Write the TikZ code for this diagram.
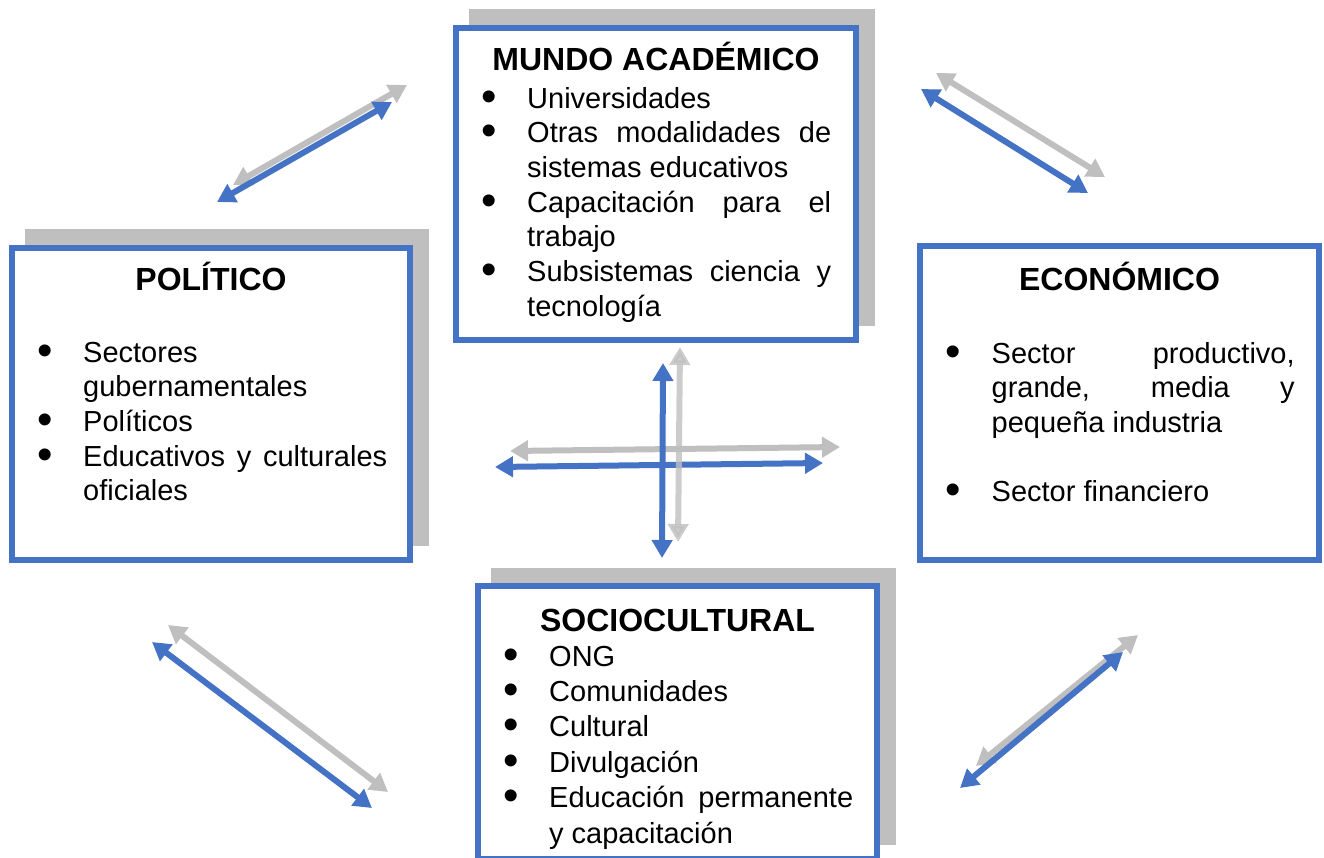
\documentclass[tikz,border=0pt]{standalone}
\usepackage{fontspec}
\setmainfont{Liberation Sans}
\usetikzlibrary{arrows.meta,shadows}
\definecolor{azul}{HTML}{4472C4}
\definecolor{gris}{HTML}{BFBFBF}
\tolerance=10000
\hbadness=10000
\newcommand{\vineta}[1]{\noindent\hangindent=46pt\hangafter=1\makebox[46pt][l]{{\fontsize{44}{44}\selectfont\raisebox{-3pt}{\textbullet}}}#1\par}

\begin{document}
\begin{tikzpicture}[x=1pt, y=-1pt,
  caja/.style={draw=azul, line width=6pt, fill=white, inner sep=0pt},
  sombra/.style={drop shadow={shadow xshift=16pt, shadow yshift=16pt, shadow scale=1.015, fill=gris, opacity=1}},
  titulo/.style={font=\fontsize{32}{38}\selectfont\bfseries, inner sep=0pt, anchor=base},
  lista/.style={font=\fontsize{29}{34.7}\selectfont, text width=350pt, align=justify, inner sep=0pt, anchor=base west},
  flecha/.style={line width=6pt, {Triangle[length=18pt,width=20pt]}-{Triangle[length=18pt,width=20pt]}}]
  \useasboundingbox (0,0) rectangle (1324,857);
  % boxes
  \node[caja, sombra, minimum width=400pt, minimum height=312pt] (mundo) at (656,184) {};
  \node[caja, sombra, minimum width=398pt, minimum height=312pt] (politico) at (211,404) {};
  \node[caja, minimum width=399pt, minimum height=314pt] (economico) at (1119.5,403) {};
  \node[caja, sombra, minimum width=399pt, minimum height=273pt] (socio) at (677.5,722.5) {};
  % titles
  \node[titulo] (tmundo) at (656,70) {MUNDO ACADÉMICO};
  \node[titulo] (tpolitico) at (211,290) {POLÍTICO};
  \node[titulo] (teconomico) at (1119.5,290) {ECONÓMICO};
  \node[titulo] (tsocio) at (677.5,631) {SOCIOCULTURAL};
  % lists
  \node[lista] (lmundo) at (481,108) {%
    \vineta{Universidades}%
    \vineta{Otras modalidades de\linebreak sistemas educativos}%
    \vineta{Capacitación para el\linebreak trabajo}%
    \vineta{Subsistemas ciencia y\linebreak tecnología}};
  \node[lista] (lpolitico) at (37,362) {%
    \vineta{Sectores\linebreak gubernamentales}%
    \vineta{Políticos}%
    \vineta{Educativos y culturales\linebreak oficiales}};
  \node[lista, text width=349pt] (leconomico) at (945.5,363) {%
    \vineta{Sector productivo,\linebreak grande, media y\linebreak pequeña industria}%
    \vspace{34.7pt}%
    \vineta{Sector financiero}};
  \node[lista, font=\fontsize{29}{35.4}\selectfont] (lsocio) at (503,666) {%
    \vineta{ONG}%
    \vineta{Comunidades}%
    \vineta{Cultural}%
    \vineta{Divulgación}%
    \vineta{Educación permanente\linebreak y capacitación}};
  % arrow ends
  \coordinate (g1a) at (233,185); \coordinate (g1b) at (407,85);
  \coordinate (b1a) at (217,202); \coordinate (b1b) at (392,102);
  \coordinate (g2a) at (936,73);  \coordinate (g2b) at (1105,177);
  \coordinate (b2a) at (921,89);  \coordinate (b2b) at (1088,193);
  \coordinate (g3a) at (168,625); \coordinate (g3b) at (388,792);
  \coordinate (b3a) at (152,642); \coordinate (b3b) at (372,808);
  \coordinate (g4a) at (976,766); \coordinate (g4b) at (1138,635);
  \coordinate (b4a) at (960,788); \coordinate (b4b) at (1123,652);
  \coordinate (ghl) at (510,451); \coordinate (ghr) at (840,447);
  \coordinate (bhl) at (495,467); \coordinate (bhr) at (823,463);
  \coordinate (gvt) at (680,347); \coordinate (gvb) at (678,542);
  \coordinate (bvt) at (663,363); \coordinate (bvb) at (662,558);
  % diagonal arrows
  \draw[flecha, gris] (g1a) -- (g1b);
  \draw[flecha, azul] (b1a) -- (b1b);
  \draw[flecha, gris] (g2a) -- (g2b);
  \draw[flecha, azul] (b2a) -- (b2b);
  \draw[flecha, gris] (g3a) -- (g3b);
  \draw[flecha, azul] (b3a) -- (b3b);
  \draw[flecha, gris] (g4a) -- (g4b);
  \draw[flecha, azul] (b4a) -- (b4b);
  % central cross
  \draw[flecha, gris] (ghl) -- (ghr);
  \draw[flecha, azul] (bhl) -- (bhr);
  \draw[flecha, azul] (bvt) -- (bvb);
  \draw[flecha, gris, opacity=0.8] (gvt) -- (gvb);
\end{tikzpicture}
\end{document}
